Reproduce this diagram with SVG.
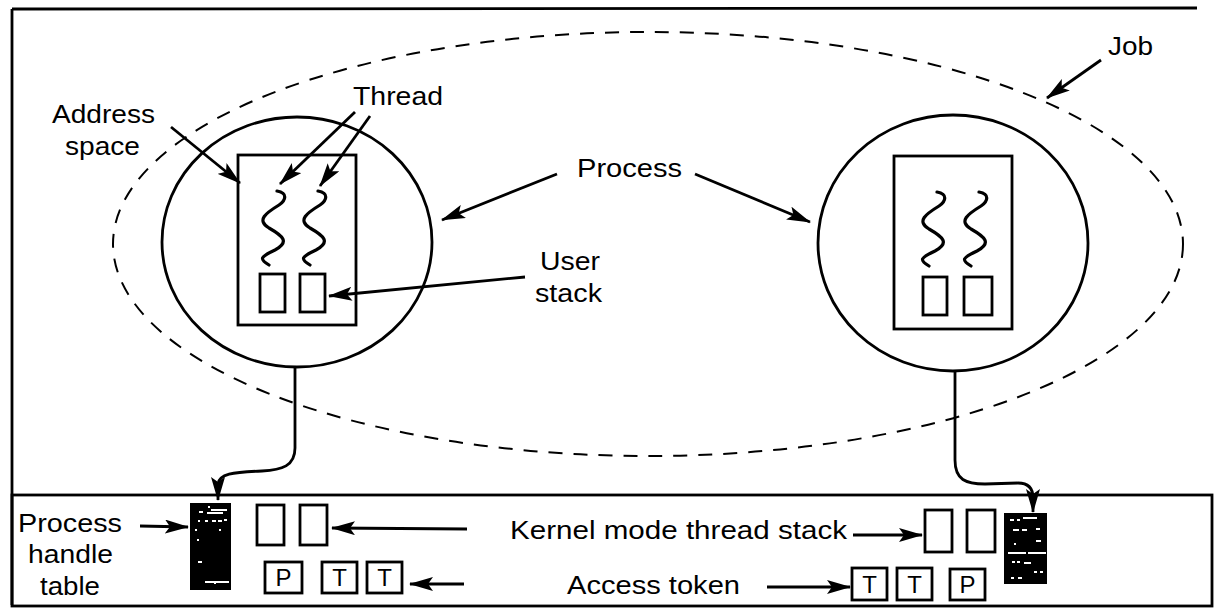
<svg xmlns="http://www.w3.org/2000/svg" width="1214" height="615" viewBox="0 0 1214 615">
<defs>
<marker id="ah" markerUnits="userSpaceOnUse" markerWidth="24" markerHeight="14" refX="23" refY="7" orient="auto">
<path d="M0,0 L24,7 L0,14 L5,7 Z" fill="#000"/>
</marker>
</defs>
<style>
.ln{fill:none;stroke:#000;stroke-width:2.8}
.th{fill:none;stroke:#000;stroke-width:3.2;stroke-linecap:round}
.job{fill:none;stroke:#000;stroke-width:2;stroke-dasharray:14 11}
.ar{fill:none;stroke:#000;stroke-width:2.8;marker-end:url(#ah)}
.t{font-family:"Liberation Sans",Arial,sans-serif;font-size:25px;fill:#000}
.tk{font-family:"Liberation Sans",Arial,sans-serif;font-size:24px;fill:#000;text-anchor:middle}
.ht{fill:#000}
.hw{stroke:#fff;stroke-width:2}
</style>
<rect width="1214" height="615" fill="#fff"/>
<!-- frame -->
<g id="frame">
<path class="ln" d="M12,9 L1197,8 M12,9 L12,605"/>
<rect class="ln" x="12" y="495" width="1200" height="111"/>
</g>
<!-- job -->
<g id="job">
<ellipse class="job" cx="648" cy="244" rx="535" ry="212"/>
<text class="t" x="1108" y="55" textLength="45" lengthAdjust="spacingAndGlyphs">Job</text>
</g>
<!-- process left -->
<g id="process-left">
<ellipse class="ln" cx="297" cy="242" rx="135" ry="125"/>
<rect class="ln" x="238" y="155" width="118" height="170"/>
<path class="th" d="M277,191 C288,193 286,200 279,205 C266,213 256,220 269,228 C283,236 290,242 275,250 C260,257 259,259 269,265"/>
<path class="th" d="M318,191 C329,193 327,200 320,205 C307,213 297,220 310,228 C324,236 331,242 316,250 C301,257 300,259 310,265"/>
<rect class="ln" x="260" y="274" width="25" height="38"/>
<rect class="ln" x="300" y="274" width="25" height="38"/>
</g>
<!-- process right -->
<g id="process-right">
<ellipse class="ln" cx="953" cy="243" rx="135" ry="128"/>
<rect class="ln" x="894" y="156" width="118" height="173"/>
<path class="th" d="M937,192 C948,194 946,201 939,206 C926,214 916,221 929,229 C943,237 950,243 935,251 C920,258 919,260 929,266"/>
<path class="th" d="M979,192 C990,194 988,201 981,206 C968,214 958,221 971,229 C985,237 992,243 977,251 C962,258 961,260 971,266"/>
<rect class="ln" x="923" y="277" width="24" height="38"/>
<rect class="ln" x="964" y="277" width="28" height="38"/>
</g>
<!-- labels -->
<g id="labels">
<text class="t" x="353" y="105" textLength="90" lengthAdjust="spacingAndGlyphs">Thread</text>
<text class="t" x="52" y="123" textLength="103" lengthAdjust="spacingAndGlyphs">Address</text>
<text class="t" x="65" y="155" textLength="75" lengthAdjust="spacingAndGlyphs">space</text>
<text class="t" x="577" y="177" textLength="105" lengthAdjust="spacingAndGlyphs">Process</text>
<text class="t" x="540" y="270" textLength="60" lengthAdjust="spacingAndGlyphs">User</text>
<text class="t" x="535" y="302" textLength="67" lengthAdjust="spacingAndGlyphs">stack</text>
</g>
<!-- handle tables -->
<g id="handle-left">
<rect class="ht" x="190" y="503" width="41" height="87"/>
<path class="hw" d="M208,507 h2 M199,512 h4 M207,513 h16 M211,510 h16 M198,521 h2 M205,521 h3 M212,521 h4 M218,521 h4 M224,520 h3 M195,530 h2 M219,530 h2 M197,540 h2 M198,562 h4 M205,582 h14 M214,583 h2 M219,582 h10"/>
</g>
<g id="handle-right">
<rect class="ht" x="1004" y="513" width="43" height="71"/>
<path class="hw" d="M1010,520 h4 M1017,520 h3 M1023,518 h14 M1013,530 h6 M1022,530 h5 M1036,529 h4 M1036,541 h5 M1014,544 h2 M1008,553 h18 M1028,553 h18 M1012,562 h3 M1017,562 h3 M1024,563 h7 M1034,572 h3 M1040,572 h3 M1011,578 h3 M1018,578 h4"/>
</g>
<!-- kernel stacks and tokens -->
<g id="kernel-left">
<rect class="ln" x="257" y="505" width="27" height="40"/>
<rect class="ln" x="300" y="505" width="27" height="40"/>
<rect class="ln" x="265" y="562" width="37" height="31"/>
<text class="tk" x="283.5" y="586">P</text>
<rect class="ln" x="322" y="562" width="35" height="31"/>
<text class="tk" x="339.5" y="586">T</text>
<rect class="ln" x="367" y="562" width="35" height="31"/>
<text class="tk" x="384.5" y="586">T</text>
</g>
<g id="kernel-right">
<rect class="ln" x="925" y="510" width="27" height="42"/>
<rect class="ln" x="967" y="510" width="28" height="42"/>
<rect class="ln" x="852" y="568" width="35" height="32"/>
<text class="tk" x="869.5" y="593">T</text>
<rect class="ln" x="897" y="568" width="35" height="32"/>
<text class="tk" x="914.5" y="593">T</text>
<rect class="ln" x="950" y="569" width="35" height="31"/>
<text class="tk" x="967.5" y="593">P</text>
</g>
<g id="bottom-labels">
<text class="t" x="18" y="532" textLength="104" lengthAdjust="spacingAndGlyphs">Process</text>
<text class="t" x="28" y="563" textLength="85" lengthAdjust="spacingAndGlyphs">handle</text>
<text class="t" x="40" y="595" textLength="60" lengthAdjust="spacingAndGlyphs">table</text>
<text class="t" x="510" y="539" textLength="337" lengthAdjust="spacingAndGlyphs">Kernel mode thread stack</text>
<text class="t" x="567" y="594" textLength="173" lengthAdjust="spacingAndGlyphs">Access token</text>
</g>
<!-- connectors -->
<g id="connectors">
<path class="ar" d="M171,127 L240,183"/>
<path class="ar" d="M355,112 L280,184"/>
<path class="ar" d="M370,116 L320,186"/>
<path class="ar" d="M557,174 L442,220"/>
<path class="ar" d="M695,174 L810,222"/>
<path class="ar" d="M525,277 L329,296"/>
<path class="ar" d="M1101,60 L1047,98"/>
<path class="ar" d="M295,367 L295,448 C295,466 282,470 262,471 C232,472 219,474 218,484 L218,500"/>
<path class="ar" d="M955,371 L955,460 C955,480 966,484 985,484 L1018,483 C1030,483 1033,490 1033,498 L1033,512"/>
<path class="ar" d="M140,526 L188,527"/>
<path class="ar" d="M467,529 L332,528"/>
<path class="ar" d="M464,584 L410,584"/>
<path class="ar" d="M853,535 L922,535"/>
<path class="ar" d="M767,587 L850,587"/>
</g>
</svg>
